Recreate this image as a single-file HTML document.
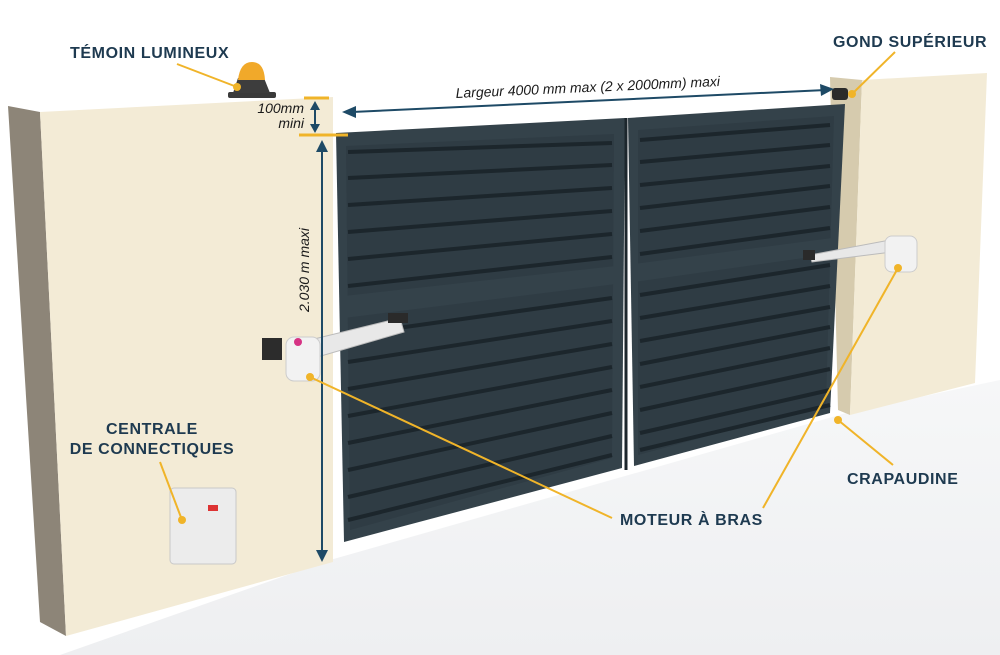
<!DOCTYPE html>
<html><head><meta charset="utf-8"><style>
body{margin:0;background:#fff}
svg{display:block}
.lb{font-family:"Liberation Sans",sans-serif;font-weight:bold;fill:#1e3a50;font-size:16px;letter-spacing:0.6px}
.it{font-family:"Liberation Sans",sans-serif;font-style:italic;fill:#1a1a1a;font-size:14px}
</style></head><body>
<svg width="1000" height="655" viewBox="0 0 1000 655" xmlns="http://www.w3.org/2000/svg">
<defs>
<linearGradient id="gr" x1="0" y1="0" x2="0" y2="1"><stop offset="0" stop-color="#f6f7f8"/><stop offset="1" stop-color="#eeeff1"/></linearGradient>
</defs>
<rect width="1000" height="655" fill="#fff"/>
<polygon points="330,560 850,412 1000,380 1000,655 60,655" fill="url(#gr)"/>
<!-- left pillar -->
<polygon points="8,106 40,112 66,636 40,622" fill="#8d8578"/>
<polygon points="40,112 333,97 333,562 66,636" fill="#f3ebd6"/>
<!-- right pillar -->
<polygon points="830,77 862,80 850,415 838,410" fill="#d6cbae"/>
<polygon points="862,80 987,73 975,383 850,415" fill="#f3ebd6"/>
<!-- gate left leaf -->
<polygon points="336,133 625,118 622,468 344,542" fill="#34424a"/>
<polygon points="346,146 614,134 612,458 350,530" fill="#2f3c44"/>
<g stroke="#1c262c" stroke-width="4">
<line x1="348" y1="152" x2="612" y2="143"/><line x1="348" y1="178" x2="612" y2="165"/>
<line x1="348" y1="205" x2="612" y2="188"/><line x1="348" y1="232" x2="612" y2="211"/>
<line x1="348" y1="259" x2="612" y2="234"/><line x1="348" y1="286" x2="612" y2="257"/>
<line x1="348" y1="335" x2="612" y2="298"/><line x1="348" y1="362" x2="612" y2="321"/>
<line x1="348" y1="389" x2="612" y2="344"/><line x1="348" y1="416" x2="612" y2="367"/>
<line x1="348" y1="443" x2="612" y2="390"/><line x1="348" y1="470" x2="612" y2="413"/>
<line x1="348" y1="497" x2="612" y2="436"/><line x1="348" y1="520" x2="612" y2="455"/>
</g>
<polygon points="344,296 616,266 616,284 344,318" fill="#34424a"/>
<!-- gate right leaf -->
<polygon points="628,118 845,104 830,413 634,466" fill="#34424a"/>
<polygon points="638,130 834,116 826,404 638,455" fill="#2f3c44"/>
<g stroke="#1c262c" stroke-width="4">
<line x1="640" y1="140" x2="830" y2="125"/><line x1="640" y1="162" x2="830" y2="145"/>
<line x1="640" y1="185" x2="830" y2="166"/><line x1="640" y1="208" x2="830" y2="186"/>
<line x1="640" y1="231" x2="830" y2="207"/><line x1="640" y1="254" x2="830" y2="228"/>
<line x1="640" y1="295" x2="830" y2="265"/><line x1="640" y1="318" x2="830" y2="286"/>
<line x1="640" y1="341" x2="830" y2="307"/><line x1="640" y1="364" x2="830" y2="327"/>
<line x1="640" y1="387" x2="830" y2="348"/><line x1="640" y1="410" x2="830" y2="369"/>
<line x1="640" y1="433" x2="830" y2="390"/><line x1="640" y1="450" x2="830" y2="405"/>
</g>
<polygon points="634,264 832,238 832,254 634,282" fill="#34424a"/>
<line x1="626" y1="118" x2="626" y2="470" stroke="#1c262c" stroke-width="3"/>
<!-- beacon -->
<rect x="228" y="92" width="48" height="6" rx="2" fill="#3a3a3a"/>
<path d="M233,93 L238,78 L264,78 L270,93 Z" fill="#3d3d3d"/>
<path d="M238,80 Q240,62 252,62 Q264,62 265,80 Z" fill="#f1a92a"/>
<rect x="832" y="88" width="16" height="12" rx="3" fill="#2a2a2a"/>
<!-- left motor -->
<rect x="262" y="338" width="20" height="22" fill="#2c2c2c"/>
<polygon points="310,340 400,318 404,332 314,358" fill="#e8e8e8" stroke="#bbb"/>
<rect x="388" y="313" width="20" height="10" fill="#2a2a2a"/>
<rect x="286" y="337" width="34" height="44" rx="8" fill="#f2f2f2" stroke="#ccc"/>
<circle cx="298" cy="342" r="4" fill="#d63384"/>
<!-- right motor -->
<polygon points="810,255 890,240 892,252 812,262" fill="#e8e8e8" stroke="#bbb"/>
<rect x="803" y="250" width="12" height="10" fill="#2a2a2a"/>
<rect x="885" y="236" width="32" height="36" rx="7" fill="#f2f2f2" stroke="#ccc"/>
<!-- control box -->
<rect x="170" y="488" width="66" height="76" rx="4" fill="#ececec" stroke="#c8c8c8"/>
<rect x="208" y="505" width="10" height="6" fill="#d33"/>
<!-- dimensions -->
<g stroke="#1e4a66" stroke-width="2" fill="#1e4a66">
<line x1="352" y1="112" x2="826" y2="90"/>
<polygon points="342,112 356,106 356,118" stroke="none"/>
<polygon points="834,89 820,84 821,96" stroke="none"/>
<line x1="322" y1="148" x2="322" y2="552"/>
<polygon points="322,140 316,152 328,152" stroke="none"/>
<polygon points="322,562 316,550 328,550" stroke="none"/>
<line x1="315" y1="108" x2="315" y2="127"/>
<polygon points="315,101 310,110 320,110" stroke="none"/>
<polygon points="315,133 310,124 320,124" stroke="none"/>
</g>
<line x1="304" y1="98" x2="329" y2="98" stroke="#f0b429" stroke-width="3"/>
<line x1="299" y1="135" x2="348" y2="135" stroke="#f0b429" stroke-width="3"/>
<text class="it" x="304" y="113" text-anchor="end">100mm</text>
<text class="it" x="304" y="128" text-anchor="end">mini</text>
<text class="it" transform="translate(588,92) rotate(-2.6)" text-anchor="middle">Largeur  4000 mm max (2 x 2000mm) maxi</text>
<text class="it" transform="translate(309,312) rotate(-90)">2.030 m maxi</text>
<!-- leaders -->
<g stroke="#f0b429" stroke-width="2" fill="#f0b429">
<line x1="177" y1="64" x2="237" y2="87"/><circle cx="237" cy="87" r="4" stroke="none"/>
<line x1="895" y1="52" x2="852" y2="94"/><circle cx="852" cy="94" r="4" stroke="none"/>
<line x1="160" y1="462" x2="182" y2="520"/><circle cx="182" cy="520" r="4" stroke="none"/>
<line x1="612" y1="518" x2="310" y2="377"/><circle cx="310" cy="377" r="4" stroke="none"/>
<line x1="763" y1="508" x2="898" y2="268"/><circle cx="898" cy="268" r="4" stroke="none"/>
<line x1="893" y1="465" x2="838" y2="420"/><circle cx="838" cy="420" r="4" stroke="none"/>
</g>
<text class="lb" x="70" y="58">TÉMOIN LUMINEUX</text>
<text class="lb" x="833" y="47">GOND SUPÉRIEUR</text>
<text class="lb" x="152" y="434" text-anchor="middle">CENTRALE</text>
<text class="lb" x="152" y="454" text-anchor="middle">DE CONNECTIQUES</text>
<text class="lb" x="620" y="525">MOTEUR À BRAS</text>
<text class="lb" x="847" y="484">CRAPAUDINE</text>
</svg>
</body></html>
